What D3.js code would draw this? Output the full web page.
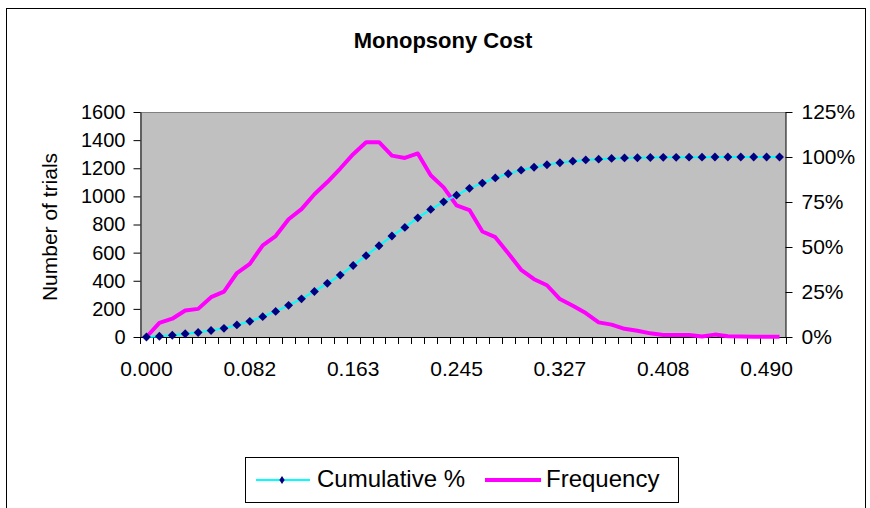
<!DOCTYPE html>
<html>
<head>
<meta charset="utf-8">
<script src="https://cdn.jsdelivr.net/npm/d3@7"></script>
<style>
	body { margin: 0; background: #fff; }
	svg text { font-family: "Liberation Sans", Arial, sans-serif; fill: #000; }
</style>
</head>
<body>
<svg id="vis" width="870" height="508"></svg>
<script>
// bin upper bounds (category axis)
const categories = [
	"0.000", "0.010", "0.020", "0.031", "0.041", "0.051", "0.061", "0.071", "0.082", "0.092",
	"0.102", "0.112", "0.122", "0.133", "0.143", "0.153", "0.163", "0.174", "0.184", "0.194",
	"0.204", "0.214", "0.225", "0.235", "0.245", "0.255", "0.265", "0.276", "0.286", "0.296",
	"0.306", "0.316", "0.327", "0.337", "0.347", "0.357", "0.367", "0.378", "0.388", "0.398",
	"0.408", "0.419", "0.429", "0.439", "0.449", "0.459", "0.470", "0.480", "0.490", "0.500"
];

// labels that Excel shows on the category axis
const tickLabels = ["0.000", "0.082", "0.163", "0.245", "0.327", "0.408", "0.490"];

// number of trials per bin
const frequency = [
	0, 100, 130, 188, 200, 283, 323, 455, 520, 652,
	718, 837, 909, 1015, 1102, 1198, 1300, 1385, 1385, 1290,
	1273, 1305, 1150, 1064, 936, 903, 750, 710, 596, 478,
	411, 368, 270, 222, 170, 104, 88, 58, 44, 26,
	14, 14, 15, 4, 17, 6, 3, 2, 2, 1
];

// cumulative %
const cumulative = [
	0, 0.4, 1.0, 1.8, 2.5, 3.6, 4.8, 6.7, 8.7, 11.3,
	14.2, 17.6, 21.2, 25.3, 29.8, 34.4, 39.7, 45.2, 50.7, 56.1,
	60.9, 66.2, 70.9, 75.1, 78.8, 82.6, 85.5, 88.4, 90.7, 92.7,
	94.3, 95.7, 96.8, 97.7, 98.4, 98.8, 99.2, 99.5, 99.6, 99.7,
	99.8, 99.8, 99.9, 99.9, 100, 100, 100, 100, 100, 100
];

const leftTicks = [0, 200, 400, 600, 800, 1000, 1200, 1400, 1600];
const rightTicks = [0, 25, 50, 75, 100, 125];

const svg = d3.select("svg#vis");

const plot = { left: 140, right: 786, top: 112, bottom: 337 };

// outer chart frame
svg.append("rect")
	.attr("x", 6.5)
	.attr("y", 8.5)
	.attr("width", 859)
	.attr("height", 530)
	.attr("fill", "#fff")
	.attr("stroke", "#000");

// title
svg.append("text")
	.attr("x", 443)
	.attr("y", 48)
	.attr("text-anchor", "middle")
	.style("font-size", "22px")
	.style("font-weight", "bold")
	.text("Monopsony Cost");

// scales
const x = d3.scaleBand()
	.domain(categories)
	.range([plot.left, plot.right]);

const yLeft = d3.scaleLinear()
	.domain([0, 1600])
	.range([plot.bottom, plot.top]);

const yRight = d3.scaleLinear()
	.domain([0, 125])
	.range([plot.bottom, plot.top]);

const cx = d => x(d) + x.bandwidth() / 2;

// plot area
svg.append("rect")
	.attr("x", plot.left)
	.attr("y", plot.top)
	.attr("width", plot.right - plot.left)
	.attr("height", plot.bottom - plot.top)
	.attr("fill", "#c0c0c0");

svg.append("line")
	.attr("x1", plot.left).attr("x2", plot.right)
	.attr("y1", plot.top + 0.5).attr("y2", plot.top + 0.5)
	.attr("stroke", "#808080");

// left axis
const axisL = svg.append("g")
	.attr("transform", translate(plot.left + 0.5, 0))
	.call(d3.axisLeft(yLeft).tickValues(leftTicks).tickSize(7).tickSizeOuter(0).tickPadding(8)
		.tickFormat(d3.format("d")));

// right axis
const axisR = svg.append("g")
	.attr("transform", translate(plot.right - 0.5, 0))
	.call(d3.axisRight(yRight).tickValues(rightTicks).tickSize(7).tickSizeOuter(0).tickPadding(9)
		.tickFormat(d => d + "%"));

// bottom axis, labels only every 8th bin
const axisB = svg.append("g")
	.attr("transform", translate(0, plot.bottom + 0.5))
	.call(d3.axisBottom(x).tickValues(tickLabels).tickSize(0));

axisB.select(".domain").remove();
axisB.selectAll("text")
	.attr("y", 38)
	.attr("dy", null);

// excel puts the tick marks between the categories
svg.append("g")
	.selectAll("line")
	.data(categories.concat([null]))
	.enter()
	.append("line")
	.attr("x1", d => Math.round(d === null ? plot.right : x(d)) + 0.5)
	.attr("x2", d => Math.round(d === null ? plot.right : x(d)) + 0.5)
	.attr("y1", plot.bottom)
	.attr("y2", plot.bottom + 7)
	.attr("stroke", "#000");

svg.append("line")
	.attr("x1", plot.left).attr("x2", plot.right)
	.attr("y1", plot.bottom + 0.5).attr("y2", plot.bottom + 0.5)
	.attr("stroke", "#000");

[axisL, axisR, axisB].forEach(a => {
	a.selectAll("text").style("font-size", "20px").style("font-family", "Liberation Sans, Arial, sans-serif");
	a.selectAll("line, path").attr("stroke", "#000");
});
axisR.selectAll("text").style("font-size", "21px");
axisB.selectAll("text").style("font-size", "21px");

// y axis title
svg.append("text")
	.attr("transform", translate(57, 227) + " rotate(-90)")
	.attr("text-anchor", "middle")
	.style("font-size", "21px")
	.text("Number of trials");

// frequency line
svg.append("path")
	.datum(frequency)
	.attr("fill", "none")
	.attr("stroke", "#ff00ff")
	.attr("stroke-width", 4)
	.attr("stroke-linejoin", "round")
	.attr("d", d3.line()
		.x((d, i) => cx(categories[i]))
		.y(d => yLeft(d)));

// cumulative line with diamond markers
svg.append("path")
	.datum(cumulative)
	.attr("fill", "none")
	.attr("stroke", "#00ffff")
	.attr("stroke-width", 2)
	.attr("d", d3.line()
		.x((d, i) => cx(categories[i]))
		.y(d => yRight(d)));

const diamond = d3.symbol().type(d3.symbolDiamond2).size(50);

svg.append("g")
	.selectAll("path")
	.data(cumulative)
	.enter()
	.append("path")
	.attr("d", diamond)
	.attr("transform", (d, i) => translate(cx(categories[i]), yRight(d)))
	.attr("fill", "#000080");

// legend
const legend = svg.append("g");

legend.append("rect")
	.attr("x", 245.5)
	.attr("y", 457.5)
	.attr("width", 433)
	.attr("height", 45)
	.attr("fill", "#fff")
	.attr("stroke", "#000");

legend.append("line")
	.attr("x1", 256).attr("x2", 310)
	.attr("y1", 480).attr("y2", 480)
	.attr("stroke", "#00ffff")
	.attr("stroke-width", 2);

// legend marker is a slimmer diamond
legend.append("path")
	.attr("d", diamond)
	.attr("transform", translate(282, 480) + " scale(0.6,0.9)")
	.attr("fill", "#000080");

legend.append("text")
	.attr("x", 317)
	.attr("y", 487)
	.style("font-size", "24px")
	.text("Cumulative %");

legend.append("line")
	.attr("x1", 485).attr("x2", 541)
	.attr("y1", 480).attr("y2", 480)
	.attr("stroke", "#ff00ff")
	.attr("stroke-width", 4);

legend.append("text")
	.attr("x", 546)
	.attr("y", 487)
	.style("font-size", "24px")
	.text("Frequency");

//Helper functions
function translate(x, y) {
	return 'translate(' + x + ',' + y + ')';
}
</script>
</body>
</html>
